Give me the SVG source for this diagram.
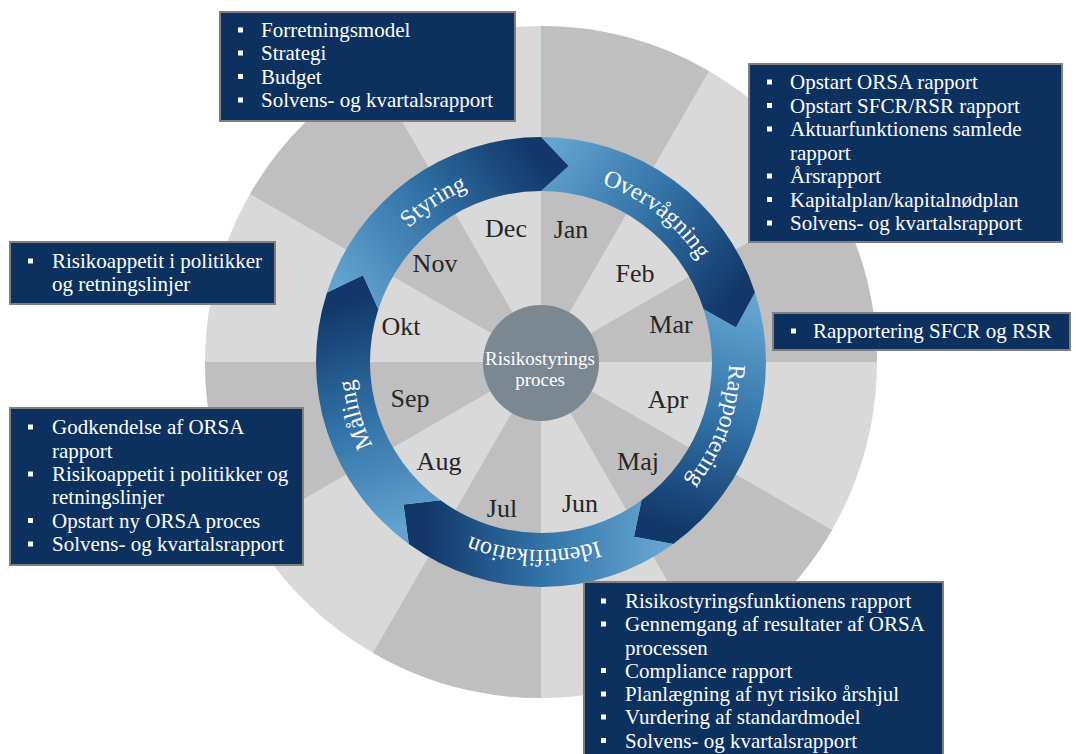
<svg xmlns="http://www.w3.org/2000/svg" xmlns:xlink="http://www.w3.org/1999/xlink" width="1076" height="754" viewBox="0 0 1076 754">
<style>
.light{fill:#d9d9d9}
.dark{fill:#bfbfbf}
.box{fill:#0c315f;stroke:#7f7f7f;stroke-width:2}
.bt{font-family:"Liberation Serif","Times New Roman",serif;font-size:21px;fill:#ffffff}
.bul{fill:#ffffff}
.mon{font-family:"Liberation Serif","Times New Roman",serif;font-size:26px;fill:#262626;text-anchor:middle}
.rl{font-family:"Liberation Serif","Times New Roman",serif;font-size:24px;fill:#ffffff;text-anchor:middle}
.ct{font-family:"Liberation Serif","Times New Roman",serif;font-size:19px;fill:#ffffff;text-anchor:middle}
</style>
<defs>
<linearGradient id="gOv" gradientUnits="userSpaceOnUse" x1="541" y1="164" x2="729" y2="301"><stop offset="0" stop-color="#62a3cf"/><stop offset="0.5" stop-color="#3272a7"/><stop offset="1" stop-color="#12386a"/></linearGradient>
<linearGradient id="gRa" gradientUnits="userSpaceOnUse" x1="729" y1="301" x2="657" y2="522"><stop offset="0" stop-color="#62a3cf"/><stop offset="0.5" stop-color="#3272a7"/><stop offset="1" stop-color="#12386a"/></linearGradient>
<linearGradient id="gId" gradientUnits="userSpaceOnUse" x1="657" y1="522" x2="425" y2="522"><stop offset="0" stop-color="#62a3cf"/><stop offset="0.5" stop-color="#3272a7"/><stop offset="1" stop-color="#12386a"/></linearGradient>
<linearGradient id="gMa" gradientUnits="userSpaceOnUse" x1="425" y1="522" x2="353" y2="301"><stop offset="0" stop-color="#62a3cf"/><stop offset="0.5" stop-color="#3272a7"/><stop offset="1" stop-color="#12386a"/></linearGradient>
<linearGradient id="gSt" gradientUnits="userSpaceOnUse" x1="353" y1="301" x2="541" y2="164"><stop offset="0" stop-color="#62a3cf"/><stop offset="0.5" stop-color="#3272a7"/><stop offset="1" stop-color="#12386a"/></linearGradient>
<path id="labelPath" d="M 541,174 A 188 188 0 1 1 541,550 A 188 188 0 1 1 541,174"/>
</defs>

<g id="wheel">
<circle class="light" cx="541" cy="362" r="336"/>
<path class="dark" d="M541,362 L541,26 A336 336 0 0 1 709,71.02 Z"/>
<path class="dark" d="M541,362 L831.98,194 A336 336 0 0 1 877,362 Z"/>
<path class="dark" d="M541,362 L831.98,530 A336 336 0 0 1 709,652.98 Z"/>
<path class="dark" d="M541,362 L541,698 A336 336 0 0 1 373,652.98 Z"/>
<path class="dark" d="M541,362 L250.02,530 A336 336 0 0 1 205,362 Z"/>
<path class="dark" d="M541,362 L250.02,194 A336 336 0 0 1 373,71.02 Z"/>
</g>

<g id="months">
<text class="mon" x="506" y="237">Dec</text>
<text class="mon" x="571" y="238">Jan</text>
<text class="mon" x="435" y="272">Nov</text>
<text class="mon" x="635" y="282">Feb</text>
<text class="mon" x="401" y="335">Okt</text>
<text class="mon" x="671" y="333">Mar</text>
<text class="mon" x="410" y="407">Sep</text>
<text class="mon" x="668" y="408">Apr</text>
<text class="mon" x="439" y="470">Aug</text>
<text class="mon" x="638" y="470">Maj</text>
<text class="mon" x="502" y="517">Jul</text>
<text class="mon" x="580" y="512">Jun</text>
</g>

<g id="cycle-arrows">
<g id="arrow-overvaagning">
<path fill="url(#gOv)" d="M541,137 A225 225 0 0 1 754.99,292.47 L735.99,327.62 L703.63,309.16 A171 171 0 0 0 541,191 L568.56,165.93 Z"/>
<text class="rl"><textPath xlink:href="#labelPath" href="#labelPath" startOffset="124.7">Overvågning</textPath></text>
</g>
<g id="arrow-rapportering">
<path fill="url(#gRa)" d="M754.99,292.47 A225 225 0 0 1 673.25,544.03 L633.96,536.82 L641.51,500.34 A171 171 0 0 0 703.63,309.16 L735.99,327.62 Z"/>
<text class="rl"><textPath xlink:href="#labelPath" href="#labelPath" startOffset="360.9">Rapportering</textPath></text>
</g>
<g id="arrow-identifikation">
<path fill="url(#gId)" d="M673.25,544.03 A225 225 0 0 1 408.75,544.03 L403.46,504.43 L440.49,500.34 A171 171 0 0 0 641.51,500.34 L633.96,536.82 Z"/>
<text class="rl"><textPath xlink:href="#labelPath" href="#labelPath" startOffset="597.2">Identifikation</textPath></text>
</g>
<g id="arrow-maaling">
<path fill="url(#gMa)" d="M408.75,544.03 A225 225 0 0 1 327.01,292.47 L363.04,275.20 L378.37,309.16 A171 171 0 0 0 440.49,500.34 L403.46,504.43 Z"/>
<text class="rl"><textPath xlink:href="#labelPath" href="#labelPath" startOffset="833.5">Måling</textPath></text>
</g>
<g id="arrow-styring">
<path fill="url(#gSt)" d="M327.01,292.47 A225 225 0 0 1 541,137 L568.56,165.93 L541,191 A171 171 0 0 0 378.37,309.16 L363.04,275.20 Z"/>
<text class="rl"><textPath xlink:href="#labelPath" href="#labelPath" startOffset="1069.7">Styring</textPath></text>
</g>
</g>

<g id="center">
<circle cx="541" cy="363" r="58" fill="#7b8791"/>
<text class="ct" x="540" y="365">Risikostyrings</text>
<text class="ct" x="540" y="386">proces</text>
</g>

<g id="box-styring">
<rect class="box" x="220" y="12" width="295" height="109"/>
<rect class="bul" x="238" y="27.5" width="5" height="5"/>
<rect class="bul" x="238" y="50.5" width="5" height="5"/>
<rect class="bul" x="238" y="74" width="5" height="5"/>
<rect class="bul" x="238" y="97.5" width="5" height="5"/>
<text class="bt" x="261" y="37">Forretningsmodel</text>
<text class="bt" x="261" y="60">Strategi</text>
<text class="bt" x="261" y="83.5">Budget</text>
<text class="bt" x="261" y="107">Solvens- og kvartalsrapport</text>
</g>

<g id="box-overvaagning">
<rect class="box" x="749" y="64" width="313" height="178"/>
<rect class="bul" x="767" y="79.5" width="5" height="5"/>
<rect class="bul" x="767" y="103" width="5" height="5"/>
<rect class="bul" x="767" y="126.5" width="5" height="5"/>
<rect class="bul" x="767" y="173.5" width="5" height="5"/>
<rect class="bul" x="767" y="197" width="5" height="5"/>
<rect class="bul" x="767" y="220.5" width="5" height="5"/>
<text class="bt" x="790" y="89">Opstart ORSA rapport</text>
<text class="bt" x="790" y="112.5">Opstart SFCR/RSR rapport</text>
<text class="bt" x="790" y="136">Aktuarfunktionens samlede</text>
<text class="bt" x="790" y="159.5">rapport</text>
<text class="bt" x="790" y="183">Årsrapport</text>
<text class="bt" x="790" y="206.5">Kapitalplan/kapitalnødplan</text>
<text class="bt" x="790" y="230">Solvens- og kvartalsrapport</text>
</g>

<g id="box-rapportering">
<rect class="box" x="773" y="313" width="297" height="37"/>
<rect class="bul" x="791" y="328.5" width="5" height="5"/>
<text class="bt" x="813" y="338">Rapportering SFCR og RSR</text>
</g>

<g id="box-risikoappetit">
<rect class="box" x="10" y="242" width="265" height="62"/>
<rect class="bul" x="28" y="258.5" width="5" height="5"/>
<text class="bt" x="52" y="268">Risikoappetit i politikker</text>
<text class="bt" x="52" y="291">og retningslinjer</text>
</g>

<g id="box-maaling">
<rect class="box" x="10" y="408" width="293" height="157"/>
<rect class="bul" x="28" y="424.5" width="5" height="5"/>
<rect class="bul" x="28" y="471.5" width="5" height="5"/>
<rect class="bul" x="28" y="518" width="5" height="5"/>
<rect class="bul" x="28" y="541.5" width="5" height="5"/>
<text class="bt" x="52" y="434">Godkendelse af ORSA</text>
<text class="bt" x="52" y="457.5">rapport</text>
<text class="bt" x="52" y="481">Risikoappetit i politikker og</text>
<text class="bt" x="52" y="504">retningslinjer</text>
<text class="bt" x="52" y="527.5">Opstart ny ORSA proces</text>
<text class="bt" x="52" y="551">Solvens- og kvartalsrapport</text>
</g>

<g id="box-identifikation">
<rect class="box" x="584" y="582" width="359" height="185"/>
<rect class="bul" x="601" y="598.5" width="5" height="5"/>
<rect class="bul" x="601" y="621.5" width="5" height="5"/>
<rect class="bul" x="601" y="668" width="5" height="5"/>
<rect class="bul" x="601" y="691.5" width="5" height="5"/>
<rect class="bul" x="601" y="714.5" width="5" height="5"/>
<rect class="bul" x="601" y="738" width="5" height="5"/>
<text class="bt" x="625" y="608">Risikostyringsfunktionens rapport</text>
<text class="bt" x="625" y="631">Gennemgang af resultater af ORSA</text>
<text class="bt" x="625" y="654.5">processen</text>
<text class="bt" x="625" y="677.5">Compliance rapport</text>
<text class="bt" x="625" y="701">Planlægning af nyt risiko årshjul</text>
<text class="bt" x="625" y="724">Vurdering af standardmodel</text>
<text class="bt" x="625" y="747.5">Solvens- og kvartalsrapport</text>
</g>
</svg>
